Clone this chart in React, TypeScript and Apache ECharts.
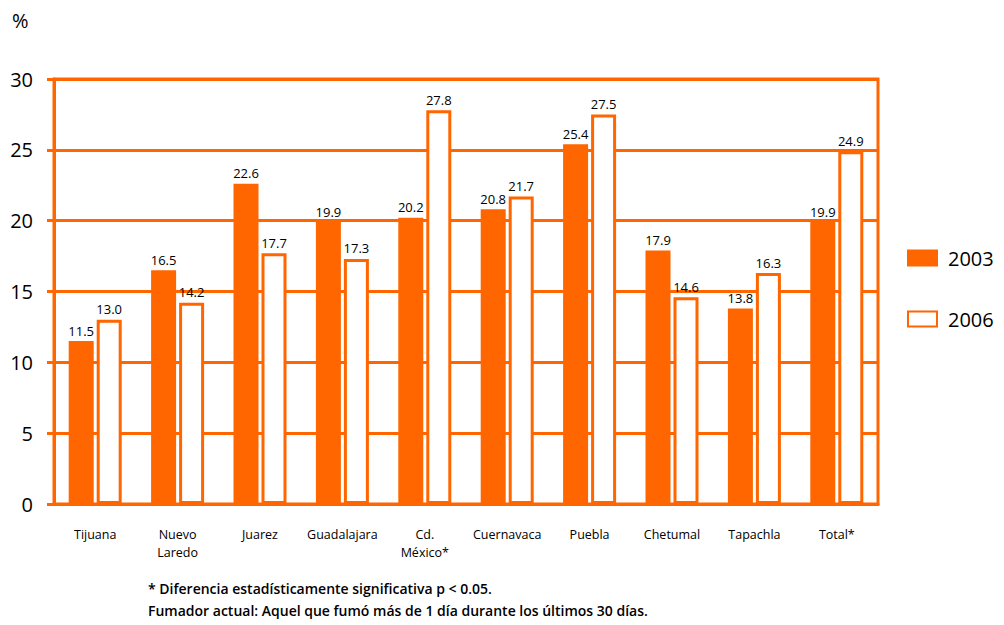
import React, { useEffect, useRef } from "react";
import * as echarts from "echarts";

const categories = ["Tijuana", "Nuevo\nLaredo", "Juarez", "Guadalajara", "Cd.\nMéxico*", "Cuernavaca", "Puebla", "Chetumal", "Tapachla", "Total*"];
const values2003 = [11.5, 16.5, 22.6, 19.9, 20.2, 20.8, 25.4, 17.9, 13.8, 19.9];
const values2006 = [13.0, 14.2, 17.7, 17.3, 27.8, 21.7, 27.5, 14.6, 16.3, 24.9];
const seriesNames = ["2003", "2006"];
const footnotes = [
  "* Diferencia estadísticamente significativa p < 0.05.",
  "Fumador actual: Aquel que fumó más de 1 día durante los últimos 30 días.",
];

const ORANGE = "#FF6600";
const FONT = "'Open Sans', 'Noto Sans', sans-serif";

export default function App() {
  const ref = useRef<HTMLDivElement>(null);
  useEffect(() => {
    const chart = echarts.init(ref.current!, null, { renderer: "svg" });
    chart.setOption({
      animation: false,
      textStyle: { fontFamily: FONT },
      grid: {
        left: 54,
        right: 126,
        top: 79,
        bottom: 121,
        show: true,
        borderColor: ORANGE,
        borderWidth: 3,
      },
      legend: {
        orient: "vertical",
        left: 902,
        top: 243,
        itemWidth: 29,
        itemHeight: 15,
        itemGap: 41,
        icon: "rect",
        textStyle: { fontSize: 20, color: "#000", fontFamily: FONT, padding: [0, 0, 0, 6] },
        data: seriesNames,
      },
      xAxis: {
        type: "category",
        data: categories,
        axisLine: { show: true, lineStyle: { color: ORANGE, width: 3 } },
        axisTick: { show: false },
        axisLabel: {
          interval: 0,
          fontSize: 12.5,
          color: "#000",
          margin: 21,
          lineHeight: 18,
          fontFamily: FONT,
        },
      },
      yAxis: {
        type: "value",
        min: 0,
        max: 30,
        interval: 5,
        axisLine: { show: true, lineStyle: { color: ORANGE, width: 3 } },
        axisTick: { show: true, length: 7, lineStyle: { color: ORANGE, width: 3 } },
        splitLine: { show: true, lineStyle: { color: ORANGE, width: 3 } },
        axisLabel: { fontSize: 20, color: "#000", margin: 21, fontFamily: FONT },
      },
      graphic: [
        { type: "text", left: 12, top: 10, style: { text: "%", fontSize: 20, fill: "#000", fontFamily: FONT } },
        { type: "text", left: 148, top: 581, style: { text: footnotes[0], fontSize: 14, fontWeight: 600, fill: "#000", fontFamily: FONT } },
        { type: "text", left: 148, top: 603, style: { text: footnotes[1], fontSize: 14, fontWeight: 600, fill: "#000", fontFamily: FONT } },
      ],
      series: [
        {
          name: seriesNames[0],
          type: "bar",
          data: values2003,
          barWidth: 25,
          barGap: "12%",
          itemStyle: { color: ORANGE, borderColor: ORANGE, borderWidth: 3 },
          label: { show: true, position: "top", formatter: (p: any) => p.value.toFixed(1), fontSize: 13, color: "#000", distance: 4, fontFamily: FONT },
        },
        {
          name: seriesNames[1],
          type: "bar",
          data: values2006,
          barWidth: 25,
          itemStyle: { color: "#fff", borderColor: ORANGE, borderWidth: 3 },
          label: { show: true, position: "top", formatter: (p: any) => p.value.toFixed(1), fontSize: 13, color: "#000", distance: 4, fontFamily: FONT },
        },
      ],
    });
    return () => chart.dispose();
  }, []);
  return <div ref={ref} style={{ width: 1004, height: 625, position: "absolute", left: 0, top: 0 }} />;
}
